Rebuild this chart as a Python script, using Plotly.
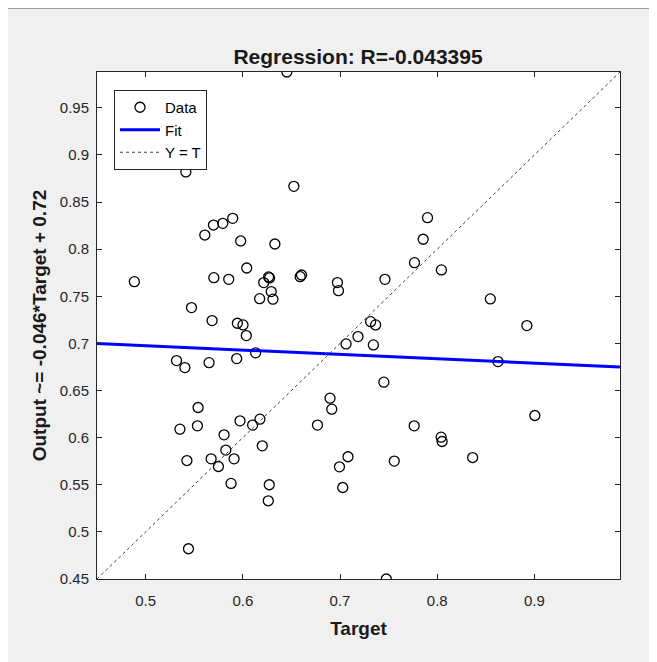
import plotly.graph_objects as go

# ---- data ----
target = [0.4884, 0.5414, 0.5609, 0.5698, 0.5794, 0.5896, 0.5978, 0.6330, 0.5702, 0.5855,
          0.6040, 0.6265, 0.6275, 0.6215, 0.6292, 0.6173, 0.6310, 0.5472, 0.5684, 0.5944,
          0.6002, 0.6036, 0.6132, 0.5318, 0.5404, 0.5653, 0.5937, 0.5540, 0.5353, 0.5533,
          0.5807, 0.5971, 0.6101, 0.6176, 0.5825, 0.6200, 0.5425, 0.5674, 0.5910, 0.5749,
          0.5879, 0.6272, 0.6262, 0.5441, 0.6453, 0.6525, 0.6590, 0.6604, 0.6973, 0.6984,
          0.7462, 0.7900, 0.7855, 0.7766, 0.8043, 0.7315, 0.7366, 0.7185, 0.7062, 0.7343,
          0.7451, 0.6897, 0.6915, 0.6768, 0.7763, 0.8040, 0.8050, 0.7082, 0.6994, 0.7558,
          0.7028, 0.7476, 0.8922, 0.8625, 0.9004, 0.8364, 0.8546]
output = [0.7655, 0.8820, 0.8150, 0.8256, 0.8274, 0.8327, 0.8087, 0.8055, 0.7698, 0.7680,
          0.7800, 0.7705, 0.7695, 0.7645, 0.7550, 0.7475, 0.7469, 0.7380, 0.7242, 0.7214,
          0.7196, 0.7083, 0.6900, 0.6818, 0.6743, 0.6796, 0.6839, 0.6320, 0.6090, 0.6125,
          0.6030, 0.6178, 0.6133, 0.6196, 0.5868, 0.5913, 0.5757, 0.5775, 0.5775, 0.5694,
          0.5514, 0.5500, 0.5330, 0.4821, 0.9880, 0.8667, 0.7708, 0.7726, 0.7645, 0.7560,
          0.7680, 0.8334, 0.8105, 0.7857, 0.7780, 0.7231, 0.7196, 0.7072, 0.6995, 0.6984,
          0.6589, 0.6419, 0.6302, 0.6133, 0.6125, 0.6005, 0.5959, 0.5797, 0.5690, 0.5751,
          0.5471, 0.4500, 0.7189, 0.6807, 0.6235, 0.5789, 0.7472]
fit_slope = -0.046
fit_intercept = 0.7205
r_value = "-0.043395"
x_ticks = [0.5, 0.6, 0.7, 0.8, 0.9]
y_ticks = [0.45, 0.5, 0.55, 0.6, 0.65, 0.7, 0.75, 0.8, 0.85, 0.9, 0.95]

lo = min(min(target), min(output))
hi = max(max(target), max(output))

# figure is placed by the page with an 8px body margin
W, H = 649, 654
ML, MR, MT, MB = 89, 37, 64, 83
PW, PH = W - ML - MR, H - MT - MB

def px(xp):
    return (xp - ML) / PW

def py(yp):
    return (H - MB - yp) / PH

fig = go.Figure()
fig.add_trace(go.Scatter(
    x=target, y=output, mode="markers", name="Data",
    marker=dict(symbol="circle-open", size=10, color="#000000", line=dict(width=1.3, color="#000000")),
))
fig.add_trace(go.Scatter(
    x=[lo, hi], y=[fit_slope * lo + fit_intercept, fit_slope * hi + fit_intercept],
    mode="lines", name="Fit", line=dict(color="#0000ff", width=3),
))
fig.add_trace(go.Scatter(
    x=[lo, hi], y=[lo, hi], mode="lines", name="Y = T",
    line=dict(color="#404040", width=1, dash="dot"),
))

font_family = "Liberation Sans, Arial, Helvetica, sans-serif"
axis_common = dict(
    range=[lo, hi], showgrid=False, zeroline=False, showline=True, linecolor="#262626",
    linewidth=1, mirror="ticks", ticks="inside", ticklen=5, tickcolor="#262626",
    tickfont=dict(family=font_family, size=15, color="#262626"),
)

fig.update_layout(
    width=W, height=H,
    margin=dict(l=ML, r=MR, t=MT, b=MB),
    paper_bgcolor="#f0f0f0", plot_bgcolor="#ffffff",
    font=dict(family=font_family, color="#262626"),
    title=dict(text="<b>Regression: R=" + r_value + "</b>", x=px(350), xref="paper",
               xanchor="center", y=1 - 49 / H, yref="container", yanchor="middle",
               font=dict(size=21, color="#1a1a1a")),
    xaxis=dict(**axis_common, tickvals=x_ticks, ticktext=[f"{v:g}" for v in x_ticks],
               title=dict(text="<b>Target</b>", font=dict(size=19, color="#1a1a1a"), standoff=13),
               ticklabelstandoff=8),
    yaxis=dict(**axis_common, tickvals=y_ticks, ticktext=[f"{v:g}" for v in y_ticks],
               title=dict(text="<b>Output ~= %.2g*Target + %.2g</b>" % (fit_slope, 0.72),
                          font=dict(size=19, color="#1a1a1a"), standoff=8),
               ticklabelstandoff=4),
    showlegend=True,
    legend=dict(x=px(106), y=py(82), xanchor="left", yanchor="top",
                bgcolor="#ffffff", bordercolor="#262626", borderwidth=1,
                font=dict(family=font_family, size=15, color="#000000"),
                tracegroupgap=0, itemwidth=40),
    shapes=[
        dict(type="line", xref="paper", yref="paper", x0=px(0), x1=px(W), y0=py(0.5), y1=py(0.5),
             line=dict(color="#a0a0a0", width=1)),
    ],
)

fig.write_html("out.html")
